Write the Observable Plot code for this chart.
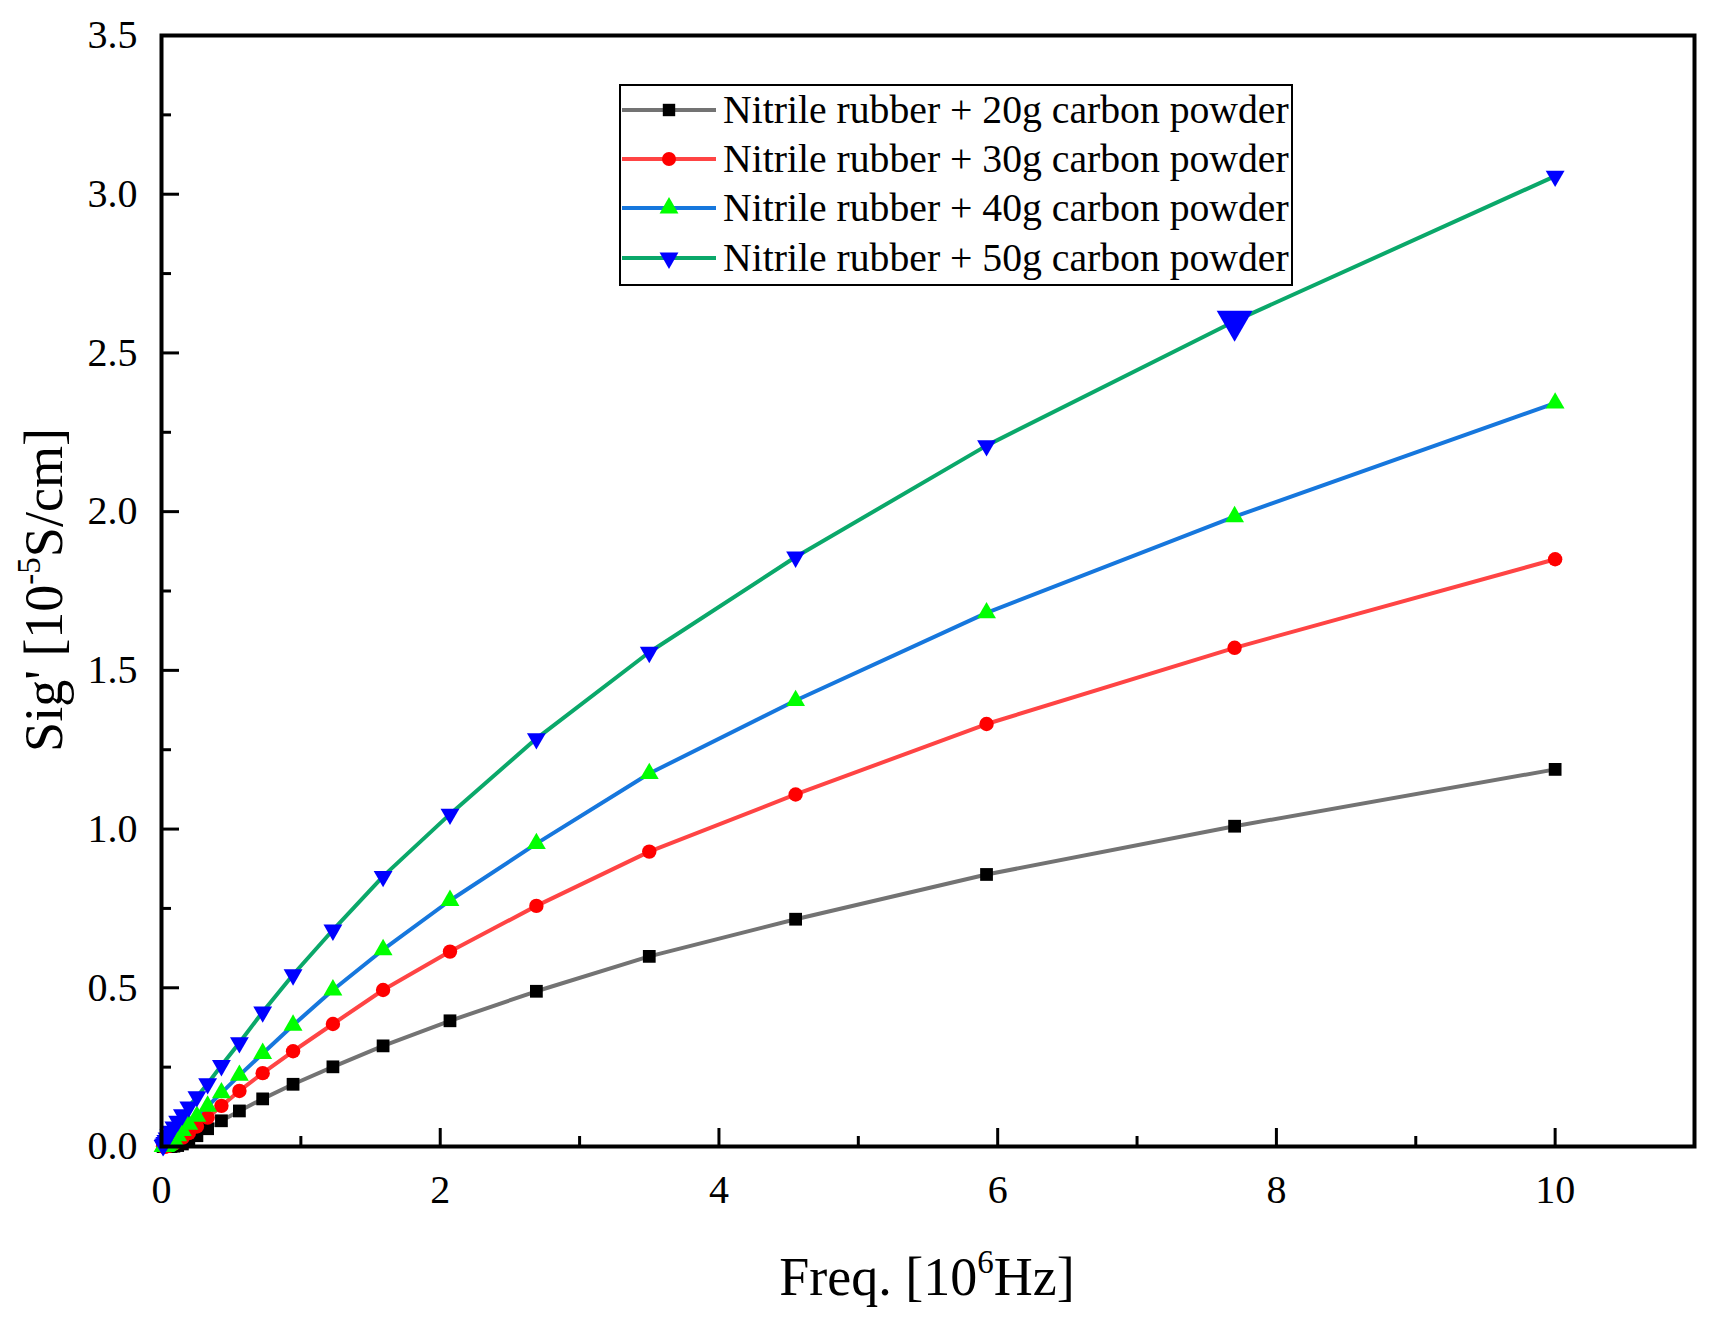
<!DOCTYPE html>
<html><head><meta charset="utf-8">
<script src="https://cdn.jsdelivr.net/npm/d3@7"></script>
<script src="https://cdn.jsdelivr.net/npm/@observablehq/plot@0.6"></script>
<style>
body{margin:0;background:#fff;}
#wrap{position:relative;width:1714px;height:1326px;font-family:"Liberation Serif","Times New Roman",serif;}
#legend{position:absolute;left:619px;top:84px;width:670px;height:198px;border:2px solid #000;background:#fff;overflow:hidden;}
.row{position:absolute;left:0;height:48px;display:flex;align-items:center;font-size:39.7px;white-space:nowrap;color:#000;}
.row svg{margin-left:1px;margin-right:7px;}
</style></head><body><div id="wrap"></div>
<script>
// Frequency [10^6 Hz]
const freq = [10, 7.70, 5.92, 4.55, 3.50, 2.69, 2.07, 1.59, 1.23, 0.944, 0.726, 0.559, 0.430, 0.331, 0.254, 0.196, 0.150, 0.116, 0.089, 0.068, 0.053, 0.040, 0.031, 0.024, 0.018, 0.014, 0.011];
// Sig' [10^-5 S/cm]
const sig20 = [1.188, 1.009, 0.857, 0.716, 0.599, 0.489, 0.396, 0.317, 0.251, 0.196, 0.150, 0.112, 0.081, 0.056, 0.034, 0.018, 0.008, 0.003, 0.001, 0, 0, 0, 0, 0, 0, 0, 0];
const sig30 = [1.850, 1.571, 1.331, 1.109, 0.929, 0.758, 0.614, 0.493, 0.386, 0.300, 0.231, 0.175, 0.128, 0.091, 0.063, 0.042, 0.027, 0.016, 0.009, 0.005, 0.002, 0.001, 0, 0, 0, 0, 0];
const sig40 = [2.342, 1.984, 1.681, 1.405, 1.175, 0.954, 0.775, 0.620, 0.493, 0.382, 0.293, 0.224, 0.169, 0.127, 0.095, 0.070, 0.050, 0.034, 0.022, 0.013, 0.007, 0.003, 0.001, 0, 0, 0, 0];
const sig50 = [3.057, 2.600, 2.208, 1.857, 1.557, 1.285, 1.047, 0.851, 0.682, 0.541, 0.424, 0.327, 0.255, 0.198, 0.157, 0.125, 0.100, 0.080, 0.062, 0.048, 0.037, 0.027, 0.019, 0.013, 0.008, 0.005, 0.003];

const seriesNames = ["Nitrile rubber + 20g carbon powder", "Nitrile rubber + 30g carbon powder", "Nitrile rubber + 40g carbon powder", "Nitrile rubber + 50g carbon powder"];
const seriesValues = [sig20, sig30, sig40, sig50];
const lineColors = ["#737373", "#ff4444", "#1677dd", "#0aa86a"];
const markerColors = ["#000000", "#ff0000", "#00ff00", "#0000ff"];
const xTicks = [0, 2, 4, 6, 8, 10];
const xMinor = [1, 3, 5, 7, 9];
const yTicks = [0, 0.5, 1.0, 1.5, 2.0, 2.5, 3.0, 3.5];
const yMinor = [0.25, 0.75, 1.25, 1.75, 2.25, 2.75, 3.25];
// enlarged marker in the original (50g series at 7.70 MHz)
const highlight = {series: 3, freq: 7.70};

const triangleDown = {
  draw(context, size) {
    const s3 = Math.sqrt(3);
    const y = -Math.sqrt(size / (s3 * 3));
    context.moveTo(0, -y * 2);
    context.lineTo(-s3 * y, y);
    context.lineTo(s3 * y, y);
    context.closePath();
  }
};
const symbols = ["square", "circle", "triangle", triangleDown];
const radii = [7.2, 7.2, 7.0, 7.0];

const rows = [];
seriesValues.forEach((vals, s) => {
  vals.forEach((v, i) => rows.push({s, name: seriesNames[s], x: freq[i], y: v,
    big: s === highlight.series && freq[i] === highlight.freq}));
});

const FONT = "'Liberation Serif', 'Times New Roman', serif";
const marks = [];
seriesNames.forEach((n, s) => {
  const d = rows.filter(r => r.s === s);
  marks.push(Plot.line(d, {x: "x", y: "y", stroke: lineColors[s], strokeWidth: 4}));
});
seriesNames.forEach((n, s) => {
  const d = rows.filter(r => r.s === s && !r.big);
  marks.push(Plot.dot(d, {x: "x", y: "y", symbol: symbols[s], fill: markerColors[s], stroke: "none", r: radii[s]}));
  const b = rows.filter(r => r.s === s && r.big);
  if (b.length) marks.push(Plot.dot(b, {x: "x", y: "y", symbol: symbols[s], fill: markerColors[s], stroke: "none", r: radii[s] * 1.9}));
});

marks.push(
  Plot.axisX(xTicks, {tickSize: -18, tickFormat: () => "", strokeWidth: 3, label: null}),
  Plot.axisX(xMinor, {tickSize: -10, tickFormat: () => "", strokeWidth: 3, label: null}),
  Plot.axisX(xTicks, {tickSize: 0, tickPadding: 28, fontSize: 40, fontFamily: FONT, tickFormat: d3.format("d"), label: null}),
  Plot.axisY(yTicks, {tickSize: -18, tickFormat: () => "", strokeWidth: 3, label: null}),
  Plot.axisY(yMinor, {tickSize: -10, tickFormat: () => "", strokeWidth: 3, label: null}),
  Plot.axisY(yTicks, {tickSize: 0, tickPadding: 24, fontSize: 40, fontFamily: FONT, tickFormat: d3.format(".1f"), label: null}),
  Plot.frame({stroke: "#000", strokeWidth: 4})
);

const chart = Plot.plot({
  width: 1714, height: 1326,
  marginLeft: 161, marginRight: 20, marginTop: 35, marginBottom: 180,
  x: {domain: [0, 11], label: null},
  y: {domain: [0, 3.5], label: null},
  style: {fontFamily: FONT, color: "#000", background: "#fff", overflow: "visible"},
  marks
});

const svg = d3.select(chart);
const xt = svg.append("text").attr("x", 927).attr("y", 1295).attr("text-anchor", "middle")
  .attr("font-size", 54).attr("font-family", FONT).attr("fill", "#000");
xt.append("tspan").text("Freq. [10");
xt.append("tspan").attr("font-size", 33).attr("dy", -22).text("6");
xt.append("tspan").attr("dy", 22).text("Hz]");

const yt = svg.append("text").attr("transform", "translate(62,590) rotate(-90)").attr("text-anchor", "middle")
  .attr("font-size", 54).attr("font-family", FONT).attr("fill", "#000");
yt.append("tspan").text("Sig' [10");
yt.append("tspan").attr("font-size", 33).attr("dy", -22).text("-5");
yt.append("tspan").attr("dy", 22).text("S/cm]");

const wrap = document.getElementById("wrap");
wrap.appendChild(chart);

// legend
const legend = document.createElement("div");
legend.id = "legend";
const rowTops = [0, 49, 98, 148];
const legendSymbols = [d3.symbolSquare, d3.symbolCircle, d3.symbolTriangle, triangleDown];
seriesNames.forEach((n, s) => {
  const row = document.createElement("div");
  row.className = "row";
  row.style.top = rowTops[s] + "px";
  const ls = d3.create("svg").attr("width", 94).attr("height", 30);
  ls.append("line").attr("x1", 0).attr("x2", 94).attr("y1", 15).attr("y2", 15)
    .attr("stroke", lineColors[s]).attr("stroke-width", 4).attr("stroke-linecap", "round");
  const sym = d3.symbol(legendSymbols[s], Math.PI * 7 * 7);
  ls.append("path").attr("d", sym()).attr("transform", "translate(47,15)").attr("fill", markerColors[s]);
  row.appendChild(ls.node());
  const t = document.createElement("span");
  t.textContent = n;
  row.appendChild(t);
  legend.appendChild(row);
});
wrap.appendChild(legend);
</script>
</body></html>
